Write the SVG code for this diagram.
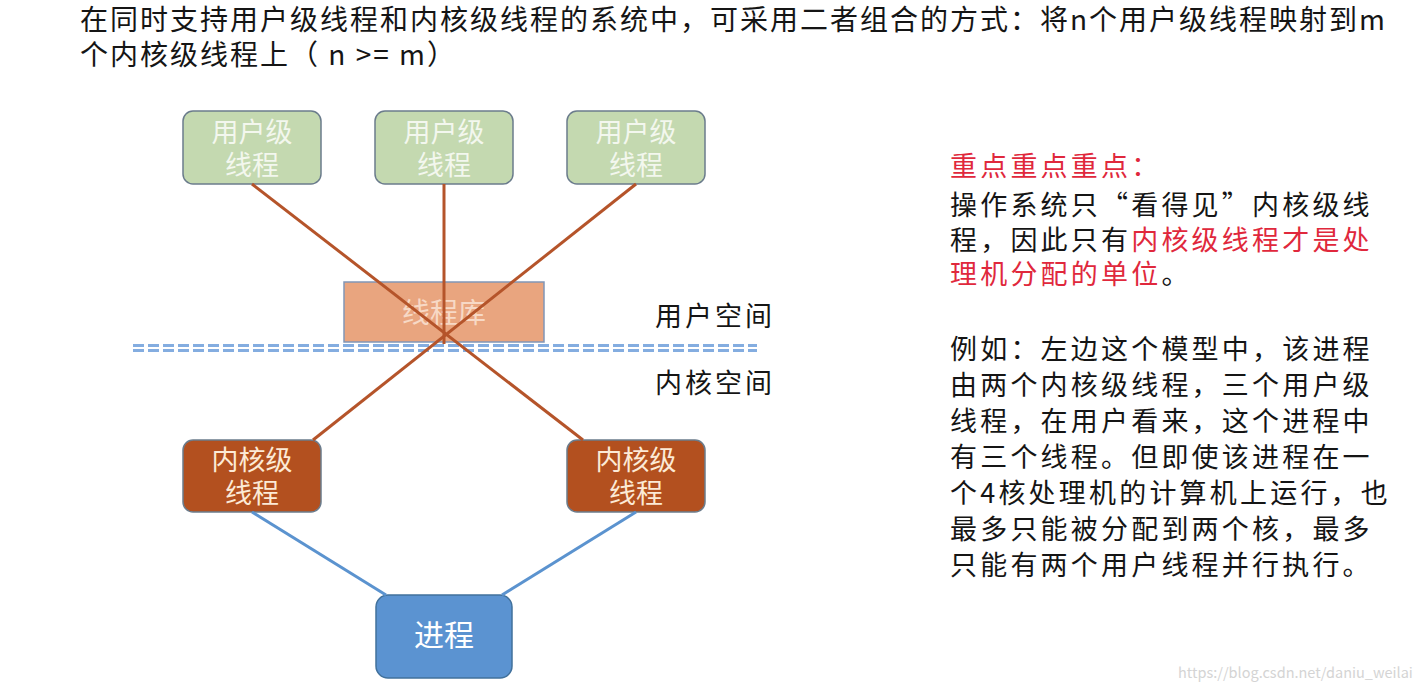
<svg xmlns="http://www.w3.org/2000/svg" width="1421" height="691" viewBox="0 0 1421 691">
<style>
text{font-family:"Noto Sans CJK SC","Liberation Sans",sans-serif}
.title{font-size:28px;letter-spacing:2px;fill:#151515}
.side{font-size:27px;letter-spacing:3.2px;fill:#151515}
.red{fill:#e0283c}
.user rect{fill:#c4d9b0;stroke:#6b7c8c;stroke-width:1.5}
.user text{fill:#f3f7ee;font-size:27px;text-anchor:middle}
.kern rect{fill:#b3501f;stroke:#6b7c8c;stroke-width:1.5}
.kern text{fill:#fcead6;font-size:27px;text-anchor:middle}
.space{font-size:27px;fill:#151515;letter-spacing:3px}
.brown{stroke:#b5542a;stroke-width:3;fill:none}
.blue{stroke:#5b93cf;stroke-width:3;fill:none}
.dash{stroke:#84ade0;stroke-width:3;stroke-dasharray:11 4;fill:none}
</style>
<rect width="1421" height="691" fill="#ffffff"/>
<text class="title" x="80" y="30">在同时支持用户级线程和内核级线程的系统中，可采用二者组合的方式：将n个用户级线程映射到m</text>
<text class="title" x="80" y="65">个内核级线程上（ n &gt;= m）</text>

<g id="user1" class="user"><rect x="183" y="111" width="138" height="73" rx="10"/><text x="252" y="142">用户级<tspan x="252" dy="33">线程</tspan></text></g>
<g id="user2" class="user"><rect x="375" y="111" width="138" height="73" rx="10"/><text x="444" y="142">用户级<tspan x="444" dy="33">线程</tspan></text></g>
<g id="user3" class="user"><rect x="567" y="111" width="138" height="73" rx="10"/><text x="636" y="142">用户级<tspan x="636" dy="33">线程</tspan></text></g>

<g id="lib"><rect x="344" y="282" width="200" height="60" fill="#e9a57f" stroke="#8196b7" stroke-width="1.5"/><text x="444" y="323" font-size="28" fill="#f7d9c6" text-anchor="middle">线程库</text></g>

<g id="divider"><line class="dash" x1="133" y1="345.5" x2="757" y2="345.5"/><line class="dash" x1="133" y1="350.5" x2="757" y2="350.5"/></g>
<text class="space" x="655" y="326">用户空间</text>
<text class="space" x="655" y="393">内核空间</text>

<g id="kern1" class="kern"><rect x="183" y="440" width="138" height="72" rx="10"/><text x="252" y="470">内核级<tspan x="252" dy="33">线程</tspan></text></g>
<g id="kern2" class="kern"><rect x="567" y="440" width="138" height="72" rx="10"/><text x="636" y="470">内核级<tspan x="636" dy="33">线程</tspan></text></g>

<g id="proc"><rect x="376" y="595" width="136" height="83" rx="12" fill="#5b93d1" stroke="#41719c" stroke-width="1.5"/><text x="444" y="646" font-size="30" fill="#ffffff" text-anchor="middle">进程</text></g>

<g id="connectors">
<line class="brown" x1="252" y1="184" x2="583" y2="440"/>
<line class="brown" x1="636" y1="184" x2="313" y2="440"/>
<line class="brown" x1="444" y1="184" x2="444" y2="344"/>
<line class="blue" x1="252" y1="512" x2="386" y2="595"/>
<line class="blue" x1="636" y1="512" x2="502" y2="595"/>
</g>

<g id="notes">
<text class="side red" x="950" y="176">重点重点重点：</text>
<text class="side" x="950" y="215">操作系统只“看得见”内核级线</text>
<text class="side" x="950" y="250">程，因此只有<tspan class="red">内核级线程才是处</tspan></text>
<text class="side" x="950" y="284"><tspan class="red">理机分配的单位</tspan>。</text>
<text class="side" x="950" y="359">例如：左边这个模型中，该进程</text>
<text class="side" x="950" y="395">由两个内核级线程，三个用户级</text>
<text class="side" x="950" y="431">线程，在用户看来，这个进程中</text>
<text class="side" x="950" y="467">有三个线程。但即使该进程在一</text>
<text class="side" x="950" y="503">个4核处理机的计算机上运行，也</text>
<text class="side" x="950" y="539">最多只能被分配到两个核，最多</text>
<text class="side" x="950" y="575">只能有两个用户线程并行执行。</text>
</g>
<text x="1178" y="678" font-family="Liberation Sans, sans-serif" font-size="14.5" fill="#d4d4d4">https://blog.csdn.net/daniu_weilai</text>
</svg>
